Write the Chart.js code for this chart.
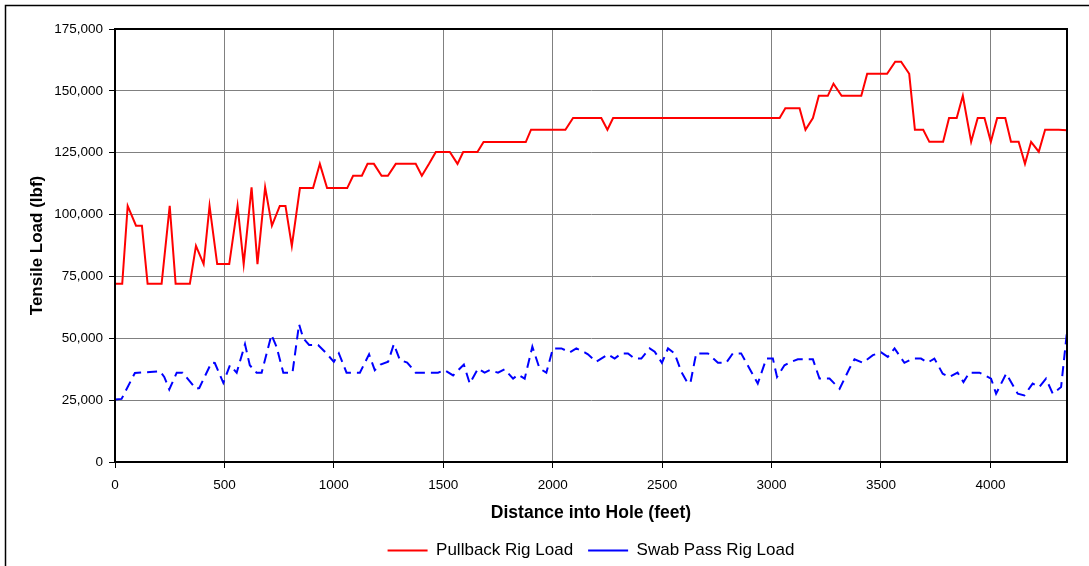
<!DOCTYPE html>
<html>
<head>
<meta charset="utf-8">
<script src="https://cdn.jsdelivr.net/npm/chart.js@4.4.1/dist/chart.umd.min.js"></script>
<style>
  html, body { margin: 0; padding: 0; background: #fff; }
  #wrap { width: 1089px; height: 566px; }
</style>
</head>
<body>
<div id="wrap"><canvas id="loadChart" width="1089" height="566"></canvas></div>

<script>
  // data (feet, lbf)
  const pullbackDist = [0, 33, 58, 96, 123, 149, 213, 250, 277, 342, 370, 405, 432, 467, 522, 560, 588, 624, 651, 686,
    717, 753, 779, 808, 845, 905, 936, 969, 1061, 1088, 1128, 1154, 1183, 1218, 1247, 1283, 1374, 1402, 1435, 1466,
    1530, 1565, 1591, 1656, 1684, 1877, 1901, 2058, 2093, 2222, 2250, 2276, 3037, 3063, 3128, 3155, 3189, 3216, 3257,
    3283, 3320, 3410, 3437, 3528, 3565, 3592, 3629, 3655, 3693, 3721, 3784, 3811, 3846, 3874, 3912, 3942, 3973, 4002,
    4031, 4068, 4094, 4129, 4158, 4186, 4221, 4250, 4312, 4360];
  const pullbackLoad = [72000, 72000, 103500, 95500, 95500, 72000, 72000, 103500, 72000, 72000, 87400, 80000, 103500,
    80000, 80000, 103500, 80000, 111000, 80000, 111000, 95500, 103500, 103500, 87300, 110700, 110700, 120500, 110700,
    110700, 115700, 115700, 120500, 120500, 115700, 115700, 120500, 120500, 115700, 120500, 125300, 125300, 120500,
    125300, 125300, 129300, 129300, 134300, 134300, 139000, 139000, 134300, 139000, 139000, 143000, 143000, 134300,
    139000, 148000, 148000, 152900, 148000, 148000, 156900, 156900, 161800, 161800, 156900, 134300, 134300, 129400,
    129400, 139000, 139000, 148000, 129400, 139000, 139000, 129400, 139000, 139000, 129400, 129400, 120500, 129400,
    125400, 134300, 134300, 134000];

  const swabDist = [0, 30, 91, 160, 205, 225, 248, 282, 309, 370, 385, 441, 456, 495, 525, 556, 594, 616, 647, 670,
    715, 738, 769, 811, 841, 860, 887, 928, 966, 1000, 1023, 1058, 1119, 1161, 1187, 1213, 1248, 1274, 1302, 1335,
    1374, 1476, 1506, 1545, 1576, 1594, 1621, 1659, 1689, 1712, 1750, 1780, 1819, 1842, 1872, 1907, 1940, 1971, 2001,
    2040, 2078, 2108, 2146, 2161, 2199, 2253, 2283, 2314, 2344, 2374, 2405, 2443, 2466, 2499, 2527, 2557, 2588, 2618,
    2630, 2648, 2656, 2709, 2755, 2793, 2823, 2861, 2899, 2937, 2976, 3006, 3025, 3059, 3090, 3120, 3189, 3219, 3265,
    3311, 3356, 3379, 3417, 3463, 3501, 3531, 3562, 3607, 3645, 3683, 3714, 3744, 3782, 3812, 3850, 3877, 3904, 3950,
    4003, 4026, 4072, 4125, 4155, 4193, 4223, 4254, 4285, 4323, 4350];
  const swabLoad = [25300, 25500, 36000, 36400, 36700, 34400, 29300, 36100, 36100, 29600, 29900, 40200, 40000, 32000,
    39100, 36100, 47600, 39100, 36100, 36100, 51400, 46600, 36100, 36100, 55700, 50000, 47300, 47300, 43900, 40500,
    43900, 36100, 36100, 43500, 37100, 39400, 40500, 47600, 41200, 40200, 36100, 36100, 37100, 35000, 37800, 39400,
    31700, 37800, 36100, 37100, 36100, 37500, 33700, 35300, 33700, 46600, 37800, 36100, 45900, 45900, 44300, 45900,
    44300, 43500, 40500, 43500, 41800, 43900, 43900, 41800, 41800, 45900, 44600, 40100, 45900, 43900, 36400, 31700,
    32300, 40500, 43900, 43900, 40100, 40100, 43900, 43900, 37800, 31700, 41800, 41800, 34400, 39100, 40500, 41500,
    41500, 33700, 33700, 29600, 37800, 41500, 40100, 43200, 44300, 42500, 45900, 40100, 41800, 41800, 40200, 41800,
    35700, 34400, 36100, 32300, 36100, 36100, 33700, 27600, 35700, 27600, 26900, 31700, 30300, 33700, 27600, 30300,
    52700];

  const xTicks = [0, 500, 1000, 1500, 2000, 2500, 3000, 3500, 4000];
  const yTicks = [0, 25000, 50000, 75000, 100000, 125000, 150000, 175000];

  const toPoints = (xs, ys) => xs.map((x, i) => ({ x: x, y: ys[i] }));

  Chart.defaults.font.family = "'Liberation Sans', Arial, sans-serif";
  Chart.defaults.color = "#000";

  // frame round the plot area and the outer chart border
  const framePlugin = {
    id: "frame",
    beforeDraw(chart) {
      const ctx = chart.ctx;
      ctx.save();
      ctx.fillStyle = "#fff";
      ctx.fillRect(0, 0, chart.width, chart.height);
      ctx.strokeStyle = "#000";
      ctx.lineWidth = 1.5;
      ctx.beginPath();
      ctx.moveTo(5.5, chart.height + 2);
      ctx.lineTo(5.5, 5.5);
      ctx.lineTo(chart.width + 2, 5.5);
      ctx.stroke();
      ctx.restore();
    },
    afterDatasetsDraw(chart) {
      const a = chart.chartArea;
      const ctx = chart.ctx;
      ctx.save();
      ctx.strokeStyle = "#000";
      ctx.lineWidth = 2;
      ctx.strokeRect(a.left, a.top, a.right - a.left, a.bottom - a.top);
      ctx.restore();
    },
    afterLayout(chart) {
      // legend sits centred under the plot area
      const lg = chart.legend;
      const dx = (chart.chartArea.left + chart.chartArea.right) / 2 - (lg.left + lg.right) / 2;
      lg.left += dx;
      lg.right += dx;
      lg.top += 3;
      lg.bottom += 3;
    },
  };

  const ctx = document.getElementById("loadChart").getContext("2d");
  new Chart(ctx, {
    type: "line",
    data: {
      datasets: [
        {
          label: "Pullback Rig Load",
          data: toPoints(pullbackDist, pullbackLoad),
          borderColor: "#ff0000",
          backgroundColor: "#ff0000",
          borderWidth: 2,
          pointRadius: 0,
          tension: 0,
        },
        {
          label: "Swab Pass Rig Load",
          data: toPoints(swabDist, swabLoad),
          borderColor: "#0000ff",
          backgroundColor: "#0000ff",
          borderWidth: 2,
          borderDash: [10, 6],
          pointRadius: 0,
          tension: 0,
        },
      ],
    },
    options: {
      responsive: false,
      animation: false,
      layout: { padding: { left: 0, top: 29, right: 22, bottom: 0 } },
      plugins: {
        tooltip: { enabled: false },
        legend: {
          position: "bottom",
          labels: {
            usePointStyle: true,
            pointStyle: "line",
            pointStyleWidth: 40,
            padding: 15,
            font: { size: 17 },
            color: "#000",
          },
        },
      },
      scales: {
        x: {
          type: "linear",
          min: 0,
          max: 4350,
          afterBuildTicks: (scale) => {
            scale.ticks = xTicks.map((v) => ({ value: v }));
          },
          afterFit: (scale) => { scale.height = 62; },
          ticks: {
            font: { size: 13.5 },
            padding: 9,
            maxRotation: 0,
            autoSkip: false,
            callback: (v) => String(v),
          },
          grid: { color: "#808080", lineWidth: 1, tickColor: "#000", tickLength: 6 },
          border: { color: "#000", width: 2 },
          title: {
            display: true,
            text: "Distance into Hole (feet)",
            font: { size: 17.5, weight: "bold" },
            padding: { top: 0, bottom: 0 },
          },
        },
        y: {
          min: 0,
          max: 175000,
          afterBuildTicks: (scale) => {
            scale.ticks = yTicks.map((v) => ({ value: v }));
          },
          afterFit: (scale) => { scale.width = 115; },
          ticks: {
            font: { size: 13.5 },
            padding: 6,
            callback: (v) => v.toLocaleString("en-US"),
          },
          grid: { color: "#808080", lineWidth: 1, tickColor: "#000", tickLength: 6 },
          border: { color: "#000", width: 2 },
          title: {
            display: true,
            text: "Tensile Load (lbf)",
            font: { size: 17, weight: "bold" },
            padding: { top: 27, bottom: 0 },
          },
        },
      },
    },
    plugins: [framePlugin],
  });
</script>
</body>
</html>
